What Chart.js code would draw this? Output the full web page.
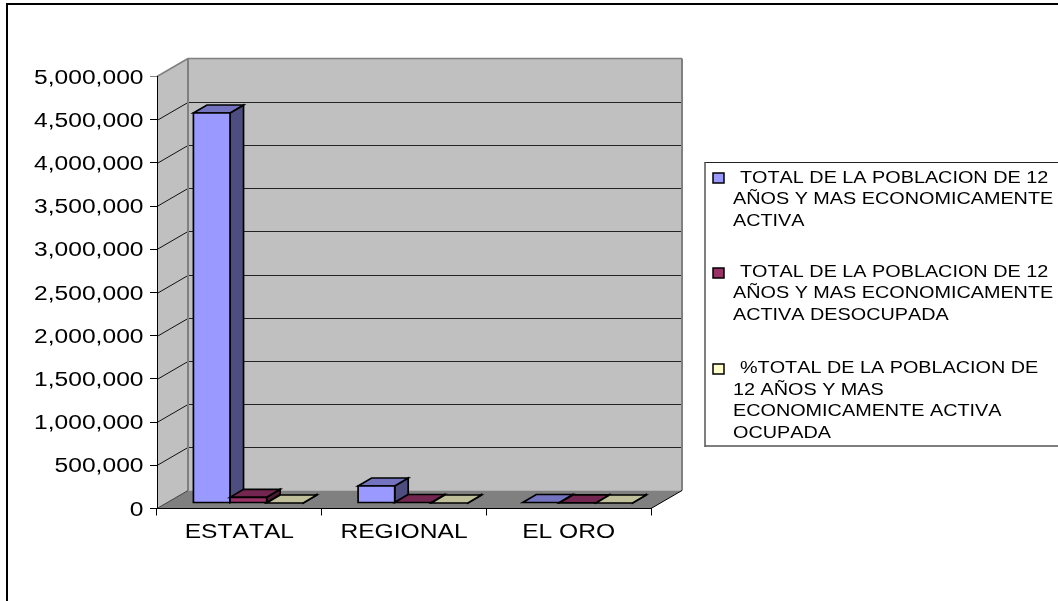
<!DOCTYPE html>
<html><head><meta charset="utf-8">
<script src="https://cdn.jsdelivr.net/npm/chart.js@4"></script>
<style>html,body{margin:0;padding:0;background:#fff;overflow:hidden}canvas{display:block}</style>
</head><body><canvas id="c" width="1058" height="601"></canvas>
<script>
const categories = ['ESTATAL', 'REGIONAL', 'EL ORO'];
const activa = [4514000, 197000, 6000];
const desocupada = [66000, 6000, 500];
const ocupadaPct = [95, 95, 95];
const legendLines = [
  [' TOTAL DE LA POBLACION DE 12', 'AÑOS Y MAS ECONOMICAMENTE', 'ACTIVA'],
  [' TOTAL DE LA POBLACION DE 12', 'AÑOS Y MAS ECONOMICAMENTE', 'ACTIVA DESOCUPADA'],
  [' %TOTAL DE LA POBLACION DE', '12 AÑOS Y MAS', 'ECONOMICAMENTE ACTIVA', 'OCUPADA']
];
const frontColors = ['#9999FF', '#993366', '#FFFFCC'];
const topColors = ['#7373BF', '#732650', '#BFBF99'];
const sideColors = ['#4D4D80', '#4D1A33', '#808066'];

const FONT = '"Liberation Sans", Arial, sans-serif';
const WALL = {dx: 31, dy: 18};
const BAR_OFFSET = {dx: 9, dy: 5.5};
const BAR_DEPTH = {dx: 13.5, dy: 8};

function stretchedText(ctx, text, x, y, align, sx) {
  ctx.save();
  ctx.translate(x, y);
  ctx.scale(sx, 1);
  ctx.textAlign = align;
  ctx.textBaseline = 'alphabetic';
  ctx.fontKerning = 'none';
  ctx.fillStyle = '#000';
  ctx.fillText(text, 0, 0);
  ctx.restore();
}
function poly(ctx, pts, fill, stroke, lw) {
  ctx.beginPath();
  pts.forEach((p, i) => i ? ctx.lineTo(p[0], p[1]) : ctx.moveTo(p[0], p[1]));
  ctx.closePath();
  if (fill) { ctx.fillStyle = fill; ctx.fill(); }
  if (stroke) { ctx.strokeStyle = stroke; ctx.lineWidth = lw || 1; ctx.stroke(); }
}
function line(ctx, x0, y0, x1, y1, color, lw) {
  ctx.beginPath(); ctx.moveTo(x0, y0); ctx.lineTo(x1, y1);
  ctx.strokeStyle = color; ctx.lineWidth = lw; ctx.stroke();
}

const scene3d = {
  id: 'scene3d',
  beforeDraw(chart) {
    const {ctx, chartArea: a, scales: {y}} = chart;
    const d = WALL;
    ctx.save();
    // outer frame
    line(ctx, 7, 4, 1060, 4, '#000', 2);
    line(ctx, 7, 3, 7, 603, '#000', 2);
    // walls and floor
    poly(ctx, [[a.left + d.dx, a.top - d.dy], [a.right + d.dx, a.top - d.dy], [a.right + d.dx, a.bottom - d.dy], [a.left + d.dx, a.bottom - d.dy]], '#C0C0C0');
    poly(ctx, [[a.left, a.top], [a.left + d.dx, a.top - d.dy], [a.left + d.dx, a.bottom - d.dy], [a.left, a.bottom]], '#C0C0C0');
    poly(ctx, [[a.left, a.bottom], [a.right, a.bottom], [a.right + d.dx, a.bottom - d.dy], [a.left + d.dx, a.bottom - d.dy]], '#808080');
    // gridlines on the walls
    y.ticks.forEach(t => {
      const py = Math.round(y.getPixelForValue(t.value)) + 0.5;
      if (t.value > 0 && t.value < y.max) {
        line(ctx, a.left, py, a.left + d.dx, py - d.dy, '#111', 1);
        line(ctx, a.left + d.dx, py - d.dy, a.right + d.dx, py - d.dy, '#222', 1);
      }
    });
    // wall edges
    const gray = '#808080';
    line(ctx, a.left, a.top, a.left + d.dx, a.top - d.dy, gray, 1.5);
    line(ctx, a.left + d.dx, a.top - d.dy, a.right + d.dx, a.top - d.dy, gray, 1.5);
    line(ctx, a.left + d.dx, a.top - d.dy, a.left + d.dx, a.bottom - d.dy, gray, 2);
    line(ctx, a.right + d.dx, a.top - d.dy, a.right + d.dx, a.bottom - d.dy, gray, 2);
    line(ctx, a.left, a.bottom, a.left + d.dx, a.bottom - d.dy, '#404040', 1);
    line(ctx, a.right, a.bottom, a.right + d.dx, a.bottom - d.dy, '#000', 1);
    ctx.restore();
  },
  beforeDatasetDraw() { return false; },
  afterDatasetsDraw(chart) {
    const {ctx} = chart;
    const o = BAR_OFFSET, z = BAR_DEPTH;
    ctx.save();
    ctx.translate(o.dx, -o.dy);
    chart.data.datasets.forEach((ds, i) => {
      chart.getDatasetMeta(i).data.forEach(el => {
        const {x, y, base, width} = el.getProps(['x', 'y', 'base', 'width'], true);
        const l = x - width / 2, r = x + width / 2;
        ctx.lineJoin = 'miter';
        poly(ctx, [[r, y], [r + z.dx, y - z.dy], [r + z.dx, base - z.dy], [r, base]], sideColors[i], '#000', 1.7);
        poly(ctx, [[l, y], [r, y], [r + z.dx, y - z.dy], [l + z.dx, y - z.dy]], topColors[i], '#000', 1.7);
        if (base - y >= 1) {
          poly(ctx, [[l, y], [r, y], [r, base], [l, base]], frontColors[i], '#000', 1.7);
        }
      });
    });
    ctx.restore();
  },
  afterDraw(chart) {
    const {ctx, scales: {x, y}} = chart;
    ctx.save();
    // axis labels
    ctx.font = '20.5px ' + FONT;
    y.ticks.forEach(t => {
      stretchedText(ctx, t.label, 143.5, y.getPixelForValue(t.value) + 7, 'right', 1.2);
    });
    x.ticks.forEach((t, i) => {
      stretchedText(ctx, categories[i], x.getPixelForValue(i), 537.5, 'center', 1.2);
    });
    // legend
    ctx.fillStyle = '#fff';
    ctx.fillRect(705, 162, 360, 284);
    line(ctx, 704.5, 162.5, 1060, 162.5, '#222', 1);
    line(ctx, 705, 162, 705, 447, '#555', 1.5);
    line(ctx, 705, 446, 1060, 446, '#555', 1.5);
    const starts = [182.5, 276.5, 373];
    const swatch = [173, 268, 364];
    ctx.font = '17px ' + FONT;
    legendLines.forEach((lines, i) => {
      poly(ctx, [[713, swatch[i]], [724, swatch[i]], [724, swatch[i] + 10], [713, swatch[i] + 10]], frontColors[i], '#000', 1.5);
      lines.forEach((s, j) => {
        stretchedText(ctx, s.trim(), j === 0 ? 740 : 733, starts[i] + j * 21.6, 'left', 1.165);
      });
    });
    ctx.restore();
  }
};

new Chart(document.getElementById('c'), {
  type: 'bar',
  data: {
    labels: categories,
    datasets: [
      {label: legendLines[0].join(' ').trim(), data: activa, backgroundColor: frontColors[0]},
      {label: legendLines[1].join(' ').trim(), data: desocupada, backgroundColor: frontColors[1]},
      {label: legendLines[2].join(' ').trim(), data: ocupadaPct, backgroundColor: frontColors[2]}
    ]
  },
  options: {
    responsive: false,
    animation: false,
    layout: {padding: {left: 157, top: 76.5, right: 407, bottom: 92.5}},
    datasets: {bar: {categoryPercentage: 0.667, barPercentage: 1}},
    plugins: {legend: {display: false}, tooltip: {enabled: false}, title: {display: false}},
    scales: {
      x: {
        afterFit(s) { s.height = 0; },
        ticks: {display: false},
        border: {color: '#000', width: 1},
        grid: {drawOnChartArea: false, drawTicks: true, tickLength: 7, color: '#000'}
      },
      y: {
        min: 0, max: 5000000,
        afterFit(s) { s.width = 0; },
        ticks: {display: false, stepSize: 500000, callback: v => v.toLocaleString('en-US')},
        border: {color: '#000', width: 1},
        grid: {drawOnChartArea: false, drawTicks: true, tickLength: 7,
               color: c => c.tick && c.tick.value === 5000000 ? '#808080' : '#000'}
      }
    }
  },
  plugins: [scene3d]
});
</script></body></html>
